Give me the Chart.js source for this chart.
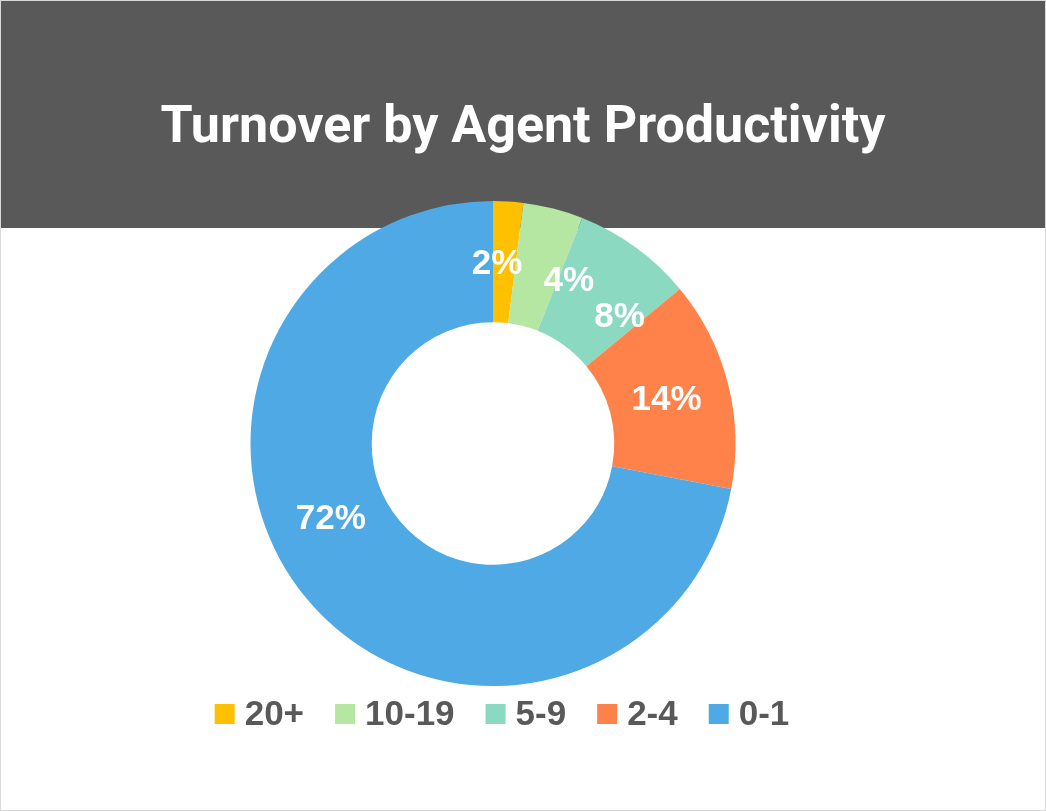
<!DOCTYPE html>
<html>
<head>
<meta charset="utf-8">
<script src="https://cdn.jsdelivr.net/npm/chart.js@4.4.1/dist/chart.umd.min.js"></script>
<style>
  html, body { margin: 0; padding: 0; background: #ffffff; }
  #wrap { position: relative; width: 1046px; height: 811px; }
  canvas { display: block; position: absolute; left: 0; top: 0; }
  #title {
    position: absolute; left: 0; top: 94px; width: 1046px; text-align: center;
    font-family: Roboto, "Liberation Sans", sans-serif; font-weight: bold; font-size: 52px;
    line-height: 62px; color: #ffffff; z-index: 2; white-space: nowrap;
  }
</style>
</head>
<body>
<div id="wrap">
  <canvas id="c" width="1046" height="811"></canvas>
  <div id="title"></div>
</div>
<script>
const titleText = 'Turnover by Agent Productivity';
const categories = ['20+', '10-19', '5-9', '2-4', '0-1'];
const shares = [2, 4, 8, 14, 72];
const sliceColors = ['#FFC000', '#B5E6A2', '#8CD9C1', '#FF824A', '#4EA9E4'];
// label nudges (degrees) mimicking the original best-fit label placement
const labelAngleShift = [-2.3, 10.7, 9, 0.4, 14.6];

document.getElementById('title').textContent = titleText;

const bandPlugin = {
  id: 'band',
  beforeDraw(chart) {
    const ctx = chart.ctx;
    ctx.save();
    ctx.fillStyle = '#ffffff';
    ctx.fillRect(0, 0, chart.width, chart.height);
    ctx.fillStyle = '#595959';
    ctx.fillRect(1, 1, chart.width - 2, 227);
    ctx.strokeStyle = '#d9d9d9';
    ctx.lineWidth = 1;
    ctx.strokeRect(0.5, 0.5, chart.width - 1, chart.height - 1);
    ctx.restore();
  }
};

const labelPlugin = {
  id: 'sliceLabels',
  afterDatasetsDraw(chart) {
    const ctx = chart.ctx;
    const meta = chart.getDatasetMeta(0);
    const ds = chart.data.datasets[0];
    ctx.save();
    ctx.fillStyle = '#ffffff';
    ctx.font = 'bold 35px "Liberation Sans", Arial, sans-serif';
    ctx.textAlign = 'center';
    ctx.textBaseline = 'middle';
    meta.data.forEach((arc, i) => {
      const mid = (arc.startAngle + arc.endAngle) / 2 + labelAngleShift[i] * Math.PI / 180;
      const r = (arc.innerRadius + arc.outerRadius) / 2 - 3;
      const x = arc.x + r * Math.cos(mid);
      const y = arc.y + r * Math.sin(mid);
      ctx.fillText(ds.data[i] + '%', x, y);
    });
    ctx.restore();
  }
};

const legendPlugin = {
  id: 'customLegend',
  afterDraw(chart) {
    const ctx = chart.ctx;
    const ds = chart.data.datasets[0];
    const box = 20, gap = 10, itemGap = 31;
    ctx.save();
    ctx.font = 'bold 35px "Liberation Sans", Arial, sans-serif';
    ctx.textBaseline = 'middle';
    ctx.textAlign = 'left';
    const widths = chart.data.labels.map(l => ctx.measureText(l).width);
    let total = 0;
    widths.forEach((w, i) => { total += box + gap + w + (i < widths.length - 1 ? itemGap : 0); });
    let x = 502 - total / 2;
    const yMid = 714;
    chart.data.labels.forEach((l, i) => {
      ctx.fillStyle = ds.backgroundColor[i];
      ctx.fillRect(x, yMid - box / 2, box, box);
      x += box + gap;
      ctx.fillStyle = '#595959';
      ctx.fillText(l, x, yMid + 1);
      x += widths[i] + itemGap;
    });
    ctx.restore();
  }
};

new Chart(document.getElementById('c'), {
  type: 'doughnut',
  data: {
    labels: categories,
    datasets: [{
      data: shares,
      backgroundColor: sliceColors,
      borderWidth: 0
    }]
  },
  options: {
    responsive: false,
    animation: false,
    cutout: '50%',
    layout: { padding: { left: 0, right: 60, top: 201, bottom: 125 } },
    plugins: {
      tooltip: { enabled: false },
      title: { display: false },
      legend: { display: false }
    }
  },
  plugins: [bandPlugin, labelPlugin, legendPlugin]
});
</script>
</body>
</html>
